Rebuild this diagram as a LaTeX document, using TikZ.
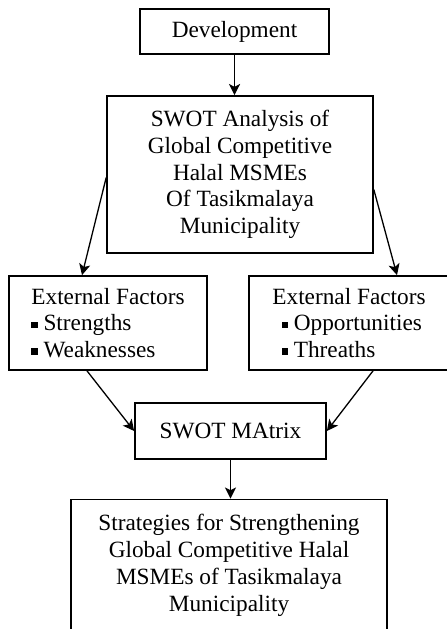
\documentclass[tikz,border=0pt]{standalone}
\usepackage{fontspec}
\setmainfont{Liberation Serif}
\usetikzlibrary{arrows.meta, calc}
\newcommand{\sqbullet}{\rule[0.28ex]{3.4pt}{3.4pt}}
\tikzset{
    base/.style={draw, line width=0.9pt, align=center, font=\rmfamily\fontsize{12.5}{14.4}\selectfont, fill=white, inner sep=2pt},
    box/.style={base, rectangle},
    factors/.style={base, rectangle, align=left, minimum width=106.5pt, minimum height=50.5pt},
    arrow/.style={-{Stealth[length=6pt, width=6pt, inset=1.5pt]}, line width=0.7pt, draw=black}
}

\begin{document}
\begin{tikzpicture}[x=0.537pt, y=-0.537pt]
    \useasboundingbox (0,0) rectangle (447,629);
    \clip (0,0) rectangle (447,629);

    \node (dev) [box, minimum width=101.5pt, minimum height=24.2pt] at (234.5,31.5) {Development};
    \node (swot) [box, minimum width=142.8pt, minimum height=84.3pt] at (240,174.5) {SWOT Analysis of\\ Global Competitive\\ Halal MSMEs\\ Of Tasikmalaya\\ Municipality};
    \node (extl) [factors] at (108,323) {External Factors\\ \sqbullet\ Strengths\\ \sqbullet\ Weaknesses};
    \node (extr) [factors, minimum width=107.5pt] at (349,323) {External Factors\\ \hspace{5pt}\sqbullet\ Opportunities\\ \hspace{5pt}\sqbullet\ Threaths};
    \node (swotm) [box, minimum width=102.6pt, minimum height=30.1pt] at (230.5,431) {SWOT MAtrix};
    \node (strat) [box, minimum width=169.7pt, minimum height=71pt] at (229,565.5) {Strategies for Strengthening\\ Global Competitive Halal\\ MSMEs of Tasikmalaya\\ Municipality};

    \draw [arrow] (dev.south) -- (dev.south |- swot.north);
    \draw [arrow] ($(swot.west)+(0,3)$) -- ($(extl.north)+(-26,0)$);
    \draw [arrow] ($(swot.east)+(0,15)$) -- ($(extr.north)+(48,0)$);
    \draw [arrow] ($(extl.south)+(-21,0)$) -- (swotm.west);
    \draw [arrow] ($(extr.south)+(24,0)$) -- (swotm.east);
    \draw [arrow] (swotm.south) -- (swotm.south |- strat.north);
\end{tikzpicture}
\end{document}
